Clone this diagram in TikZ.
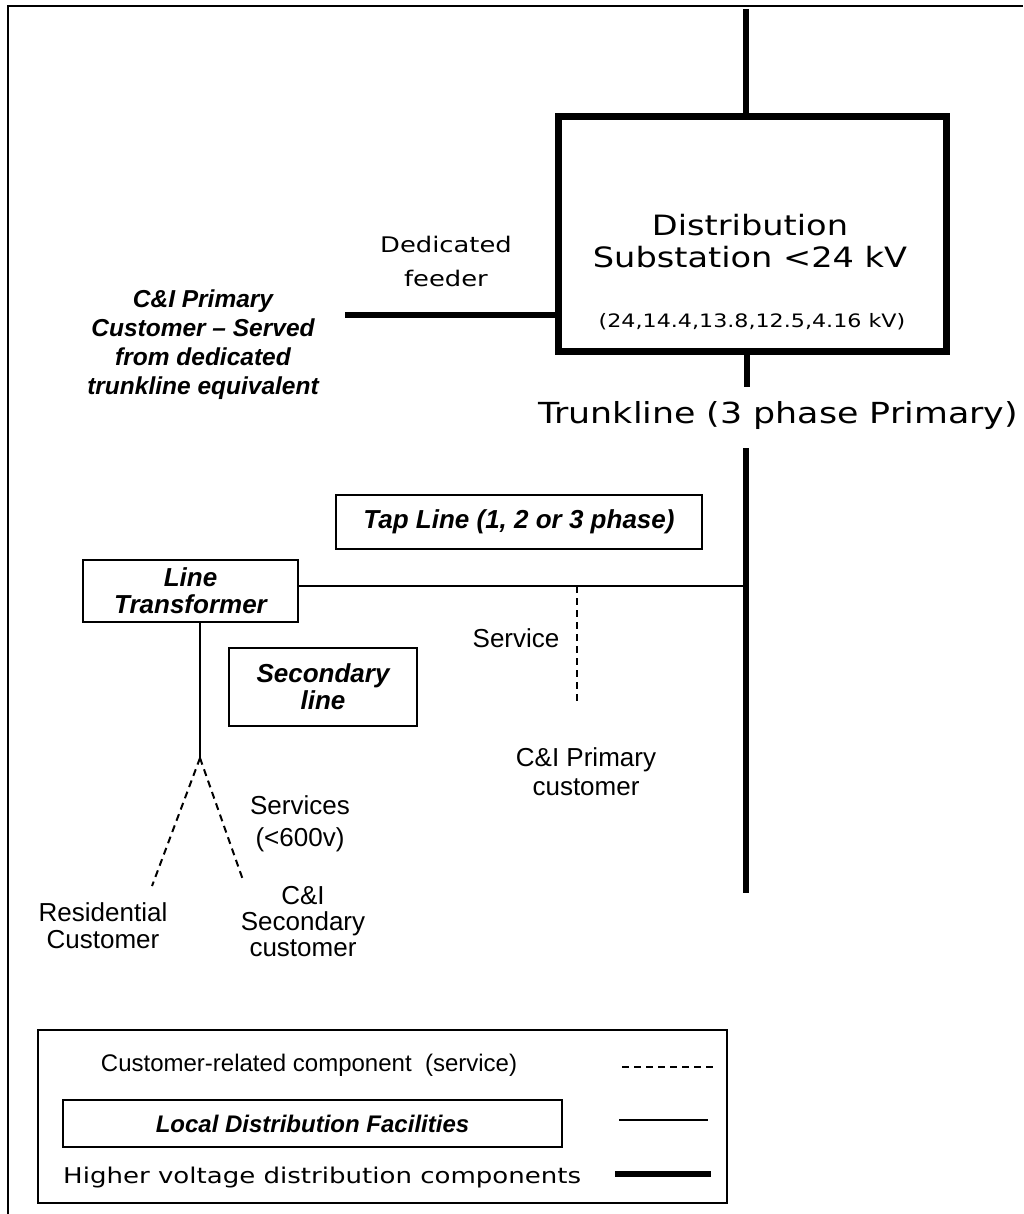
\documentclass[tikz,border=0pt]{standalone}
\usepackage{fontspec}
\setmainfont{Liberation Sans}
\newfontfamily\widefont[FakeStretch=1.2]{DejaVu Sans}
\usetikzlibrary{shapes,arrows}
\newcommand{\bfit}[0]{\bfseries\itshape}
\tikzstyle{block} = [rectangle, draw, line width=2.2pt, inner sep=0pt, text centered, align=center, font=\fontsize{26}{27}\selectfont\bfit]
\tikzstyle{txt} = [inner sep=0pt, align=center, font=\fontsize{26}{27}\selectfont]
\tikzstyle{wide} = [inner sep=0pt, align=center, font=\widefont\fontsize{28}{32}\selectfont]
\tikzstyle{hv} = [draw, line width=6pt]
\tikzstyle{local} = [draw, line width=2.5pt]
\tikzstyle{service} = [draw, line width=2pt, dash pattern=on 7pt off 5pt]

\begin{document}
\begin{tikzpicture}[x=1pt,y=-1pt]
\useasboundingbox (0,0) rectangle (1023,1214);
\draw [line width=2.2pt] (8,1214) -- (8,6) -- (1023,6);

% substation and trunkline
\node [block, line width=7pt, minimum width=388pt, minimum height=234pt] (sub) at (752,234) {};
\node [wide] (subname) at (750,241) {Distribution\\Substation <24 kV};
\node [wide, font=\widefont\fontsize{18.5}{20}\selectfont] (subkv) at (752,322) {(24,14.4,13.8,12.5,4.16 kV)};
\node [wide, font=\widefont\fontsize{29}{32}\selectfont] (trunk) at (778,415) {Trunkline (3 phase Primary)};
\coordinate (top) at (746,9);
\coordinate (stub) at (747,387);
\coordinate (trunktop) at (746,448);
\coordinate (trunkend) at (746,893);

% dedicated feeder
\coordinate (feeder) at (345,315);
\node [wide, font=\widefont\fontsize{21.5}{34}\selectfont] (ded) at (446,261) {Dedicated\\feeder};
\node [txt, font=\fontsize{24.5}{29}\selectfont\bfit] (cip) at (203,345) {C\&I Primary\\Customer -- Served\\from dedicated\\trunkline equivalent};

% tap line
\node [block] (tap) at (519,522) [minimum width=366pt, minimum height=54pt] {Tap Line (1, 2 or 3 phase)};
\node [block, minimum width=215pt, minimum height=62pt] (lt) at (190.5,591) {Line\\Transformer};
\node [block, minimum width=188pt, minimum height=78pt] (sec) at (323,687) {Secondary\\line};
\coordinate (tapend) at (746,586);
\coordinate (svc) at (577,704);
\node [txt] (svclabel) at (516,638) {Service};
\node [txt, font=\fontsize{26}{29}\selectfont] (cipc) at (586,772) {C\&I Primary\\customer};

% services
\coordinate (jn) at (200,758);
\coordinate (res) at (152,886);
\coordinate (cis) at (243,880);
\node [txt, font=\fontsize{26}{32}\selectfont] (svcs) at (300,824) {Services\\(<600v)};
\node [txt] (resc) at (103,926) {Residential\\Customer};
\node [txt, font=\fontsize{26}{26}\selectfont] (cisc) at (303,922) {C\&I\\Secondary\\customer};

% legend
\node [draw, line width=1.5pt, minimum width=689pt, minimum height=173pt] (legend) at (382.5,1116.5) {};
\node [txt, font=\fontsize{24}{26}\selectfont] (lg1) at (309,1065) {Customer-related component\ \ (service)};
\node [block, font=\fontsize{24}{26}\selectfont\bfit, line width=2pt, minimum width=499pt, minimum height=47pt] (lg2) at (312.5,1123.5) {Local Distribution Facilities};
\node [wide, anchor=west, font=\widefont\fontsize{21.7}{24}\selectfont] (lg3) at (63,1177) {Higher voltage distribution components};
\coordinate (d1) at (622,1067);
\coordinate (d2) at (713,1067);
\coordinate (s1) at (619,1120);
\coordinate (s2) at (708,1120);
\coordinate (h1) at (615,1174);
\coordinate (h2) at (711,1174);

% lines
\path [hv] (top) -- (top |- sub.north);
\path [hv] (stub |- sub.south) -- (stub);
\path [hv] (trunktop) -- (trunkend);
\path [hv] (feeder) -- (feeder -| sub.west);

\path [local] (lt.east |- tapend) -- (tapend);
\path [service] (svc |- tapend) -- (svc);

\path [local] (jn |- lt.south) -- (jn);
\path [service] (jn) -- (res);
\path [service] (jn) -- (cis);

\path [service] (d1) -- (d2);
\path [local] (s1) -- (s2);
\path [hv] (h1) -- (h2);

\end{tikzpicture}
\end{document}
